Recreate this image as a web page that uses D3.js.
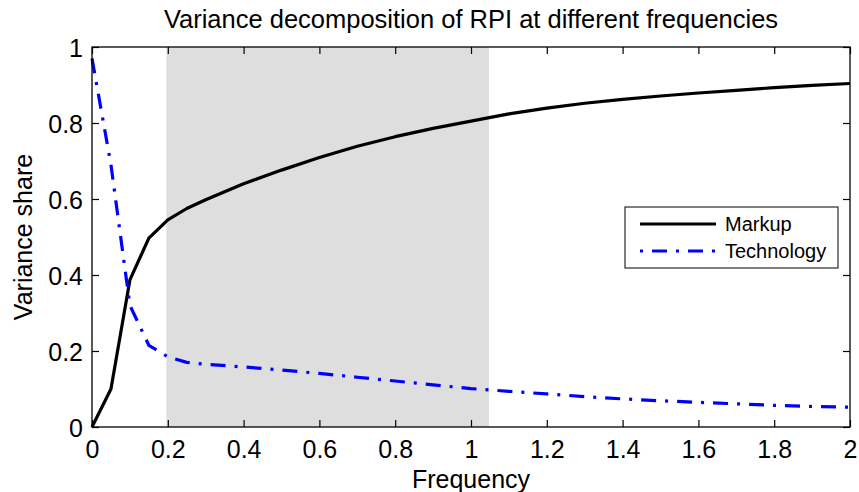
<!DOCTYPE html>
<html>
<head>
<meta charset="utf-8">
<script src="https://cdn.jsdelivr.net/npm/d3@7"></script>
<style>
  html, body { margin: 0; padding: 0; background: #fff; }
  svg { display: block; font-family: "Liberation Sans", Arial, Helvetica, sans-serif; }
</style>
</head>
<body>
<svg id="chart" width="859" height="492"></svg>
<script>
// ---- data ----
const markupFreq = [0, 0.05, 0.1, 0.15, 0.2, 0.25, 0.3, 0.4, 0.5, 0.6, 0.7, 0.8, 0.9, 1.0, 1.1, 1.2, 1.3, 1.4, 1.5, 1.6, 1.7, 1.8, 1.9, 2.0];
const markupShare = [0, 0.10, 0.387, 0.497, 0.545, 0.575, 0.598, 0.640, 0.676, 0.709, 0.739, 0.764, 0.786, 0.805, 0.824, 0.839, 0.852, 0.862, 0.871, 0.879, 0.886, 0.893, 0.899, 0.904];
const techFreq = [0, 0.05, 0.1, 0.15, 0.2, 0.25, 0.3, 0.4, 0.5, 0.6, 0.7, 0.8, 0.9, 1.0, 1.1, 1.2, 1.3, 1.4, 1.5, 1.6, 1.7, 1.8, 1.9, 2.0];
const techShare = [0.97, 0.69, 0.32, 0.215, 0.185, 0.170, 0.165, 0.158, 0.150, 0.141, 0.131, 0.121, 0.111, 0.101, 0.094, 0.087, 0.080, 0.074, 0.069, 0.065, 0.061, 0.057, 0.054, 0.052];
const bandStart = 2 * Math.PI / 32;   // business-cycle band
const bandEnd = 2 * Math.PI / 6;
const xTicks = [0, 0.2, 0.4, 0.6, 0.8, 1, 1.2, 1.4, 1.6, 1.8, 2];
const yTicks = [0, 0.2, 0.4, 0.6, 0.8, 1];
const seriesNames = ["Markup", "Technology"];
const titleText = "Variance decomposition of RPI at different frequencies";
const xLabel = "Frequency";
const yLabel = "Variance share";

// ---- layout ----
const svg = d3.select("#chart");
const W = 859, H = 492;
const m = { left: 92, right: W - 850, top: 47, bottom: H - 427 };
const x = d3.scaleLinear().domain([0, 2]).range([m.left, W - m.right]);
const y = d3.scaleLinear().domain([0, 1]).range([H - m.bottom, m.top]);
const fmt = d => String(+(+d).toFixed(1));
const fs = 25;

// shaded band
svg.append("rect")
  .attr("x", x(bandStart)).attr("y", y(1))
  .attr("width", x(bandEnd) - x(bandStart))
  .attr("height", y(0) - y(1))
  .attr("fill", "#dedede");

// axes with inward ticks
const tickLen = 7;
const gx = svg.append("g").attr("transform", `translate(0,${y(0)})`)
  .call(d3.axisBottom(x).tickValues(xTicks).tickFormat(fmt).tickSizeInner(-tickLen).tickSizeOuter(0).tickPadding(12));
const gxTop = svg.append("g").attr("transform", `translate(0,${y(1)})`)
  .call(d3.axisTop(x).tickValues(xTicks).tickFormat("").tickSizeInner(-tickLen).tickSizeOuter(0));
const gy = svg.append("g").attr("transform", `translate(${x(0)},0)`)
  .call(d3.axisLeft(y).tickValues(yTicks).tickFormat(fmt).tickSizeInner(-tickLen).tickSizeOuter(0).tickPadding(9));
const gyR = svg.append("g").attr("transform", `translate(${x(2)},0)`)
  .call(d3.axisRight(y).tickValues(yTicks).tickFormat("").tickSizeInner(-tickLen).tickSizeOuter(0));
[gx, gxTop, gy, gyR].forEach(g => {
  g.select(".domain").remove();
  g.selectAll("line").attr("stroke", "#000").attr("stroke-width", 1.2);
  g.selectAll("text").attr("fill", "#000").style("font-size", fs + "px").style("font-family", "Liberation Sans, Arial, sans-serif");
});
gx.selectAll("text").attr("dy", null).attr("y", 31);
gy.selectAll("text").attr("dy", "0.36em");

// lines
const lineGen = d3.line().x(d => x(d[0])).y(d => y(d[1]));
const markupData = markupFreq.map((f, i) => [f, markupShare[i]]);
const techData = techFreq.map((f, i) => [f, techShare[i]]);

svg.append("path").datum(markupData)
  .attr("d", lineGen)
  .attr("fill", "none").attr("stroke", "#000").attr("stroke-width", 3.2)
  .attr("stroke-linejoin", "round");

svg.append("path").datum(techData)
  .attr("d", lineGen)
  .attr("fill", "none").attr("stroke", "#0000ff").attr("stroke-width", 3.2)
  .attr("stroke-dasharray", "15,9,3,9");

// frame
svg.append("rect")
  .attr("x", x(0)).attr("y", y(1))
  .attr("width", x(2) - x(0)).attr("height", y(0) - y(1))
  .attr("fill", "none").attr("stroke", "#000").attr("stroke-width", 1.3);

// legend
const lg = svg.append("g");
lg.append("rect").attr("x", 625).attr("y", 207).attr("width", 213).attr("height", 61)
  .attr("fill", "#fff").attr("stroke", "#000").attr("stroke-width", 1);
const legendStyles = [
  { color: "#000", dash: null },
  { color: "#0000ff", dash: "3,9,15,9" }
];
seriesNames.forEach((name, i) => {
  const ly = 224 + i * 27;
  lg.append("line").attr("x1", 640).attr("x2", 716).attr("y1", ly).attr("y2", ly)
    .attr("stroke", legendStyles[i].color).attr("stroke-width", 3.2)
    .attr("stroke-dasharray", legendStyles[i].dash);
  lg.append("text").attr("x", 725).attr("y", ly).attr("dy", "0.36em")
    .style("font-size", "20px").text(name);
});

// title and labels
svg.append("text").attr("x", (x(0) + x(2)) / 2).attr("y", 28)
  .attr("text-anchor", "middle").style("font-size", "25.5px").text(titleText);
svg.append("text").attr("x", (x(0) + x(2)) / 2).attr("y", 488)
  .attr("text-anchor", "middle").style("font-size", fs + "px").text(xLabel);
svg.append("text")
  .attr("transform", `translate(32,${(y(0) + y(1)) / 2}) rotate(-90)`)
  .attr("text-anchor", "middle").style("font-size", fs + "px").text(yLabel);
</script>
</body>
</html>
